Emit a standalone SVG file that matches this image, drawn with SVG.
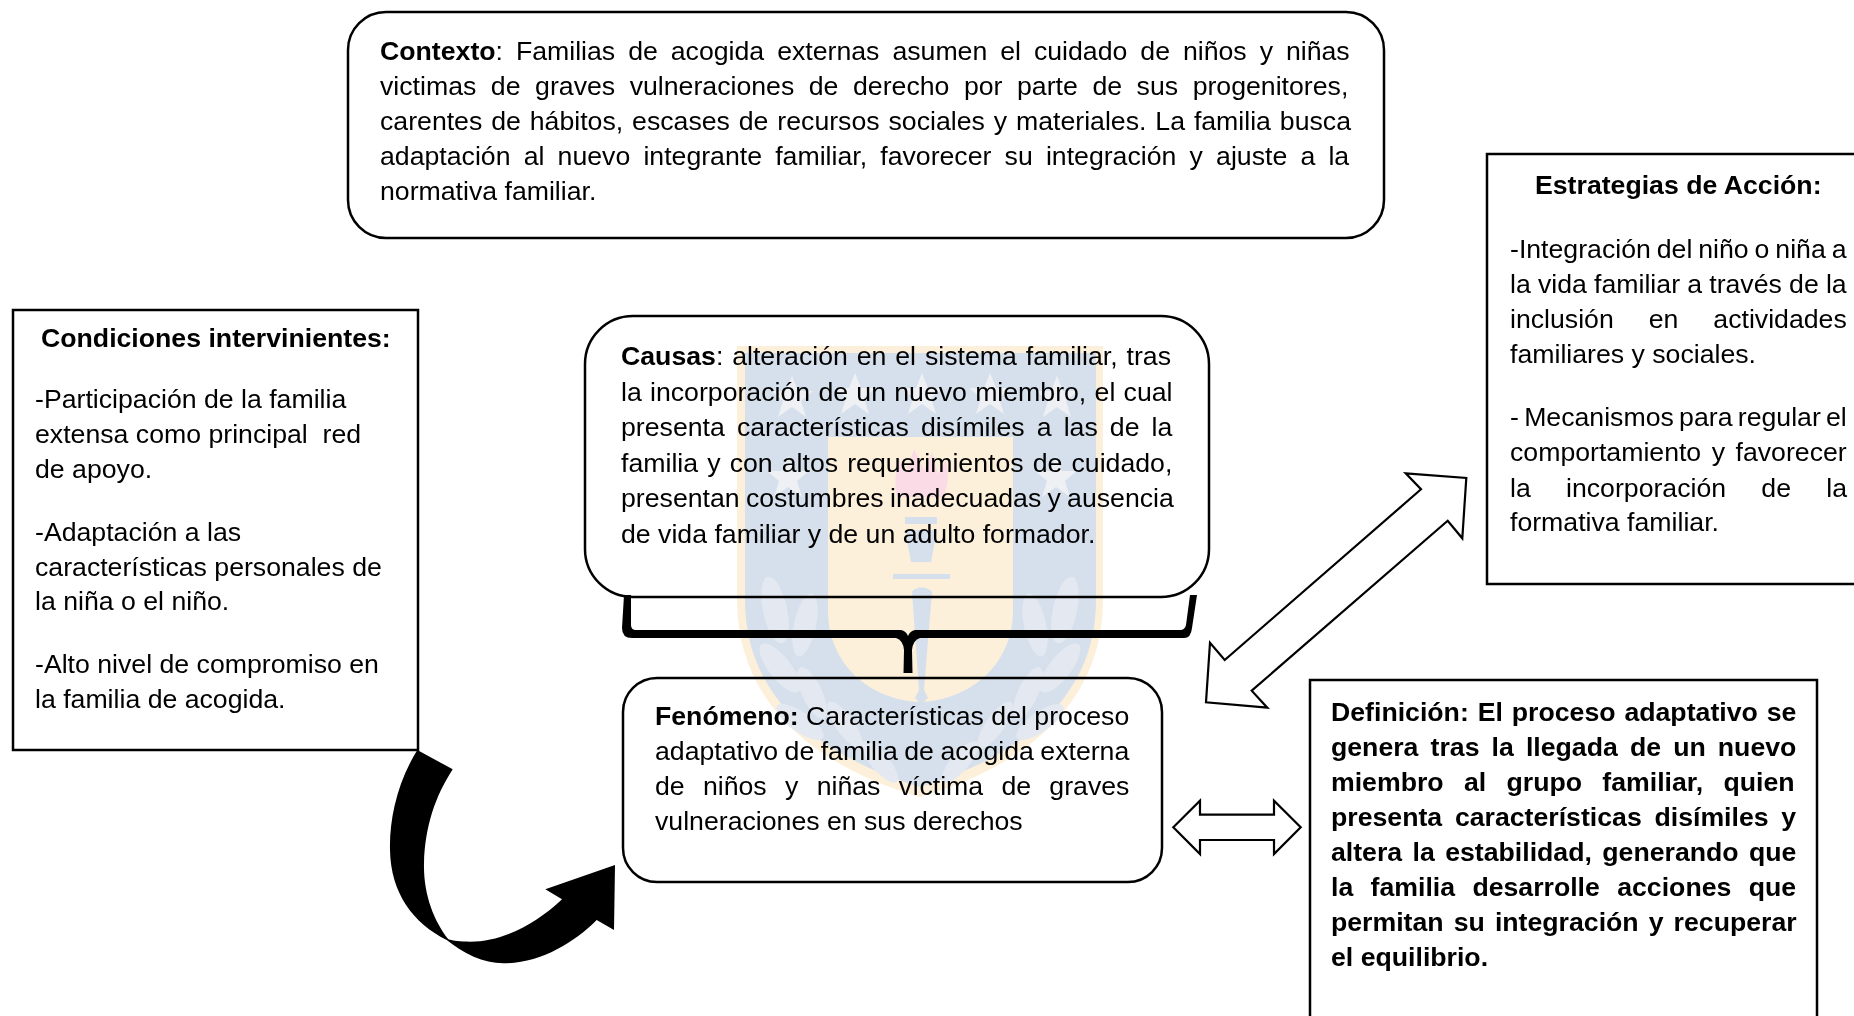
<svg xmlns="http://www.w3.org/2000/svg" width="1854" height="1016" viewBox="0 0 1854 1016">
<style>
text{font-family:"Liberation Sans",Arial,sans-serif;font-size:25px;fill:#000;white-space:pre}
.b{font-weight:bold}
.box{fill:#fff;stroke:#000;stroke-width:2.5}
.dbl{fill:#fff;stroke:#000;stroke-width:2.2;stroke-linejoin:miter}
.wm{mix-blend-mode:multiply}
.st{fill:#eef0f3}
.lf{fill:#e4e9f1}
</style>
<defs><polygon id="star" points="0,-22 6,-7 21,-7 9,3 14,19 0,9 -14,19 -9,3 -21,-7 -6,-7"/></defs>
<rect width="1854" height="1016" fill="#fff"/>
<g id="contexto">
<rect class="box" x="348" y="12" width="1036" height="226" rx="38"/>
<text transform="matrix(1.067 0 0 1 380 60)" word-spacing="5.2"><tspan class="b">Contexto</tspan>: Familias de acogida externas asumen el cuidado de niños y niñas</text>
<text transform="matrix(1.067 0 0 1 380 95)" word-spacing="6.7">victimas de graves vulneraciones de derecho por parte de sus progenitores,</text>
<text transform="matrix(1.067 0 0 1 380 130)" word-spacing="1.4">carentes de hábitos, escases de recursos sociales y materiales. La familia busca</text>
<text transform="matrix(1.067 0 0 1 380 165)" word-spacing="5.4">adaptación al nuevo integrante familiar, favorecer su integración y ajuste a la</text>
<text transform="matrix(1.067 0 0 1 380 200)">normativa familiar.</text>
</g>
<g id="condiciones">
<rect class="box" x="13" y="310" width="405" height="440"/>
<text class="b" transform="matrix(1.067 0 0 1 41 347)">Condiciones intervinientes:</text>
<text transform="matrix(1.067 0 0 1 35 408)">-Participación de la familia</text>
<text transform="matrix(1.067 0 0 1 35 443)">extensa como principal  red</text>
<text transform="matrix(1.067 0 0 1 35 478)">de apoyo.</text>
<text transform="matrix(1.067 0 0 1 35 541)">-Adaptación a las</text>
<text transform="matrix(1.067 0 0 1 35 576)">características personales de</text>
<text transform="matrix(1.067 0 0 1 35 610)">la niña o el niño.</text>
<text transform="matrix(1.067 0 0 1 35 673)">-Alto nivel de compromiso en</text>
<text transform="matrix(1.067 0 0 1 35 708)">la familia de acogida.</text>
</g>
<g id="estrategias">
<rect class="box" x="1487" y="154" width="380" height="430"/>
<text class="b" transform="matrix(1.067 0 0 1 1535 194)">Estrategias de Acción:</text>
<text transform="matrix(1.067 0 0 1 1510 258)" word-spacing="-1.4">-Integración del niño o niña a</text>
<text transform="matrix(1.067 0 0 1 1510 293)" word-spacing="-0.2">la vida familiar a través de la</text>
<text transform="matrix(1.067 0 0 1 1510 328)" word-spacing="25.8">inclusión en actividades</text>
<text transform="matrix(1.067 0 0 1 1510 363)">familiares y sociales.</text>
<text transform="matrix(1.067 0 0 1 1510 426)" word-spacing="-2">- Mecanismos para regular el</text>
<text transform="matrix(1.067 0 0 1 1510 461)" word-spacing="2.9">comportamiento y favorecer</text>
<text transform="matrix(1.067 0 0 1 1510 497)" word-spacing="26.1">la incorporación de la</text>
<text transform="matrix(1.067 0 0 1 1510 531)">formativa familiar.</text>
</g>
<g id="causas">
<rect class="box" x="585" y="316" width="624" height="281" rx="48"/>
<text transform="matrix(1.067 0 0 1 621 365)" word-spacing="1.4"><tspan class="b">Causas</tspan>: alteración en el sistema familiar, tras</text>
<text transform="matrix(1.067 0 0 1 621 401)" word-spacing="0.8">la incorporación de un nuevo miembro, el cual</text>
<text transform="matrix(1.067 0 0 1 621 436)" word-spacing="4.4">presenta características disímiles a las de la</text>
<text transform="matrix(1.067 0 0 1 621 472)" word-spacing="1.6">familia y con altos requerimientos de cuidado,</text>
<text transform="matrix(1.067 0 0 1 621 507)" word-spacing="-1.07">presentan costumbres inadecuadas y ausencia</text>
<text transform="matrix(1.067 0 0 1 621 543)">de vida familiar y de un adulto formador.</text>
</g>
<g id="fenomeno">
<rect class="box" x="623" y="678" width="539" height="204" rx="34"/>
<text transform="matrix(1.067 0 0 1 655 725)"><tspan class="b">Fenómeno:</tspan> Características del proceso</text>
<text transform="matrix(1.067 0 0 1 655 760)" word-spacing="-0.86">adaptativo de familia de acogida externa</text>
<text transform="matrix(1.067 0 0 1 655 795)" word-spacing="10.2">de niños y niñas víctima de graves</text>
<text transform="matrix(1.067 0 0 1 655 830)">vulneraciones en sus derechos</text>
</g>
<g id="definicion">
<rect class="box" x="1310" y="680" width="507" height="360"/>
<g class="b">
<text transform="matrix(1.067 0 0 1 1331 721)" word-spacing="1.4">Definición: El proceso adaptativo se</text>
<text transform="matrix(1.067 0 0 1 1331 756)" word-spacing="4.4">genera tras la llegada de un nuevo</text>
<text transform="matrix(1.067 0 0 1 1331 791)" word-spacing="12.1">miembro al grupo familiar, quien</text>
<text transform="matrix(1.067 0 0 1 1331 826)" word-spacing="5">presenta características disímiles y</text>
<text transform="matrix(1.067 0 0 1 1331 861)" word-spacing="2.8">altera la estabilidad, generando que</text>
<text transform="matrix(1.067 0 0 1 1331 896)" word-spacing="9.3">la familia desarrolle acciones que</text>
<text transform="matrix(1.067 0 0 1 1331 931)" word-spacing="2.5">permitan su integración y recuperar</text>
<text transform="matrix(1.067 0 0 1 1331 966)">el equilibrio.</text>
</g>
</g>
<g id="connectors">
<path d="M417.3 750C396.7 783.3 389.3 820 390 850C390.7 893.3 413.3 923.3 446.7 940C463.3 953.3 483.3 963.3 503.3 963.3C540 963.3 573.3 943.3 596.7 920L614 930L615 865L545.3 889.3L562 899.3C536.7 923.3 503.3 941.7 470 941.7C460 941.7 453.3 940.7 448.3 939.3C433.3 920 423.3 893.3 424 863.3C425 826.7 435 796.7 452.7 769.3Z" fill="#000"/>
<path d="M624 595L622 628Q622 638 632 638L896 638Q903 640 904 650L903.5 673L912.5 673L912 650Q913 640 920 638L1184 638Q1191 638 1192 628L1197 595L1190 595L1186 625Q1185 630 1180 630L915 630Q910 631 908 636Q906 631 901 630L636 630Q631 630 631 625L631 595Z" fill="#000"/>
<polygon class="dbl" points="1405.7,473.3 1466.3,478 1462.3,538.3 1447.7,520.7 1251.7,690.7 1267.3,707.7 1206,702.3 1210,642.7 1224.7,660 1421,489.3"/>
<polygon class="dbl" points="1173.3,827.3 1200,800.7 1200,814.7 1274,814.7 1274,800.7 1300.7,827.3 1274,854 1274,840 1200,840 1200,854"/>
</g>
<g class="wm">
<path d="M737 346H1103V600C1103 700 1030 765 920 797C810 765 737 700 737 600Z" fill="#fdf0da"/>
<path d="M745 353H1096V600C1096 695 1025 755 920 787C815 755 745 695 745 600Z" fill="#d6e0ec"/>
<path d="M828 437H1013V610C1013 665 970 700 920 702C870 700 828 665 828 610Z" fill="#fdf0da"/>
<g class="st">
<use href="#star" x="792" y="398"/><use href="#star" x="855" y="395"/><use href="#star" x="922" y="395"/><use href="#star" x="990" y="395"/><use href="#star" x="1057" y="398"/><use href="#star" x="788" y="478"/><use href="#star" x="1056" y="478"/>
</g>
<path d="M897 497C893 480 897 470 899 458L906 472L914 449L924 470L932 452L938 474L946 460C949 475 948 485 944 497Z" fill="#fbdce6"/>
<path d="M905 517H937V524H905ZM905 530H937L931 562H911ZM893 574H950V579H893ZM912 592C915 586 928 586 932 592L924 690L928 698L921 704L915 698L919 690Z" fill="#d6e0ec"/>
<g class="lf">
<ellipse cx="775" cy="610" rx="12" ry="34" transform="rotate(-12 775 610)"/><ellipse cx="805" cy="625" rx="11" ry="32" transform="rotate(12 805 625)"/><ellipse cx="780" cy="668" rx="11" ry="30" transform="rotate(-38 780 668)"/><ellipse cx="812" cy="693" rx="10" ry="28" transform="rotate(-25 812 693)"/><ellipse cx="800" cy="722" rx="10" ry="28" transform="rotate(-55 800 722)"/><ellipse cx="845" cy="725" rx="9" ry="28" transform="rotate(-35 845 725)"/><ellipse cx="880" cy="762" rx="9" ry="26" transform="rotate(-40 880 762)"/>
<ellipse cx="1065" cy="610" rx="12" ry="34" transform="rotate(12 1065 610)"/><ellipse cx="1035" cy="625" rx="11" ry="32" transform="rotate(-12 1035 625)"/><ellipse cx="1060" cy="668" rx="11" ry="30" transform="rotate(38 1060 668)"/><ellipse cx="1028" cy="693" rx="10" ry="28" transform="rotate(25 1028 693)"/><ellipse cx="1040" cy="722" rx="10" ry="28" transform="rotate(55 1040 722)"/><ellipse cx="995" cy="725" rx="9" ry="28" transform="rotate(35 995 725)"/><ellipse cx="960" cy="762" rx="9" ry="26" transform="rotate(40 960 762)"/>
</g>
</g>
</svg>
